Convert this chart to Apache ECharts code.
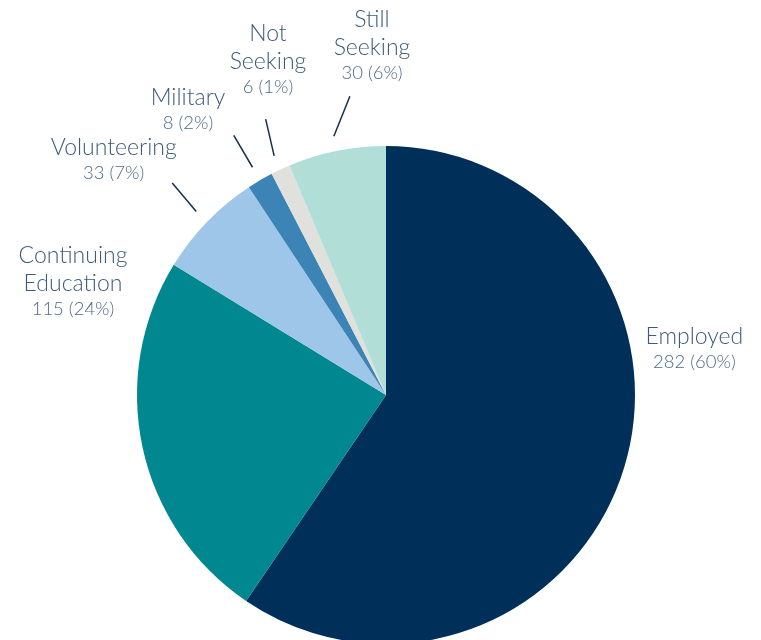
<!DOCTYPE html>
<html><head><meta charset="utf-8">
<script src="https://cdn.jsdelivr.net/npm/echarts@6/dist/echarts.min.js"></script>
<style>html,body{margin:0;padding:0;background:#fff}#c{width:761px;height:640px}</style>
</head><body><div id="c"></div>
<script>
const categories = ['Employed', 'Continuing Education', 'Volunteering', 'Military', 'Not Seeking', 'Still Seeking'];
const labelNames = ['Employed', 'Continuing\nEducation', 'Volunteering', 'Military', 'Not\nSeeking', 'Still\nSeeking'];
const values = [282, 115, 33, 8, 6, 30];
const colors = ['#00305a', '#00878f', '#9dc6e8', '#3c84b6', '#e0e0dc', '#b2ded8'];
const showLine = [false, false, true, true, true, true];
// label placement (angle shift in degrees, radius in px) and leader-line skew
const labelShift = [-25.8, 32.1, -3.2, -4.3, 5.7, 9.1];
const labelRadius = [312, 333, 360, 348, 356, 350];
const lineSkew = [0, 0, 0.7, 0, 1.5, 4.5];

const CX = 386, CY = 395, R = 249;
const total = values.reduce((a, b) => a + b, 0);
const mids = [];
let acc = 0;
values.forEach(v => { const a = v / total * 360; mids.push(acc + a / 2); acc += a; });
function pt(angDeg, r) {
  const t = angDeg * Math.PI / 180;
  return [CX + r * Math.sin(t), CY - r * Math.cos(t)];
}

const chart = echarts.init(document.getElementById('c'), null, {renderer: 'canvas'});
chart.setOption({
  animation: false,
  series: [{
    type: 'pie',
    center: [CX, CY],
    radius: [0, R],
    startAngle: 90,
    clockwise: true,
    percentPrecision: 0,
    avoidLabelOverlap: false,
    itemStyle: {borderWidth: 0},
    emphasis: {disabled: true},
    label: {
      show: true,
      position: 'outside',
      align: 'center',
      formatter: p => '{n|' + labelNames[p.dataIndex].split('\n').join('}\n{n|') + '}\n{v|' + p.value + ' (' + p.percent + '%)}',
      rich: {
        n: {fontFamily: 'Lato', fontWeight: 300, fontSize: 23, color: '#3d5b7a', lineHeight: 28, align: 'center'},
        v: {fontFamily: 'Lato', fontWeight: 300, fontSize: 18.5, color: '#4d6a89', lineHeight: 23, align: 'center'}
      }
    },
    labelLine: {show: true, lineStyle: {color: '#14304e', width: 1.5}},
    labelLayout: function (p) {
      const i = p.dataIndex;
      const c = pt(mids[i] + labelShift[i], labelRadius[i]);
      const out = {x: c[0], y: c[1], align: 'center', verticalAlign: 'middle'};
      if (showLine[i]) {
        const s = pt(mids[i], R + 15);
        const e = pt(mids[i] + lineSkew[i], R + 52);
        out.labelLinePoints = [s, e, e];
      }
      return out;
    },
    data: categories.map((n, i) => ({
      name: n, value: values[i],
      itemStyle: {color: colors[i]},
      labelLine: {show: showLine[i]}
    }))
  }]
});
</script></body></html>
